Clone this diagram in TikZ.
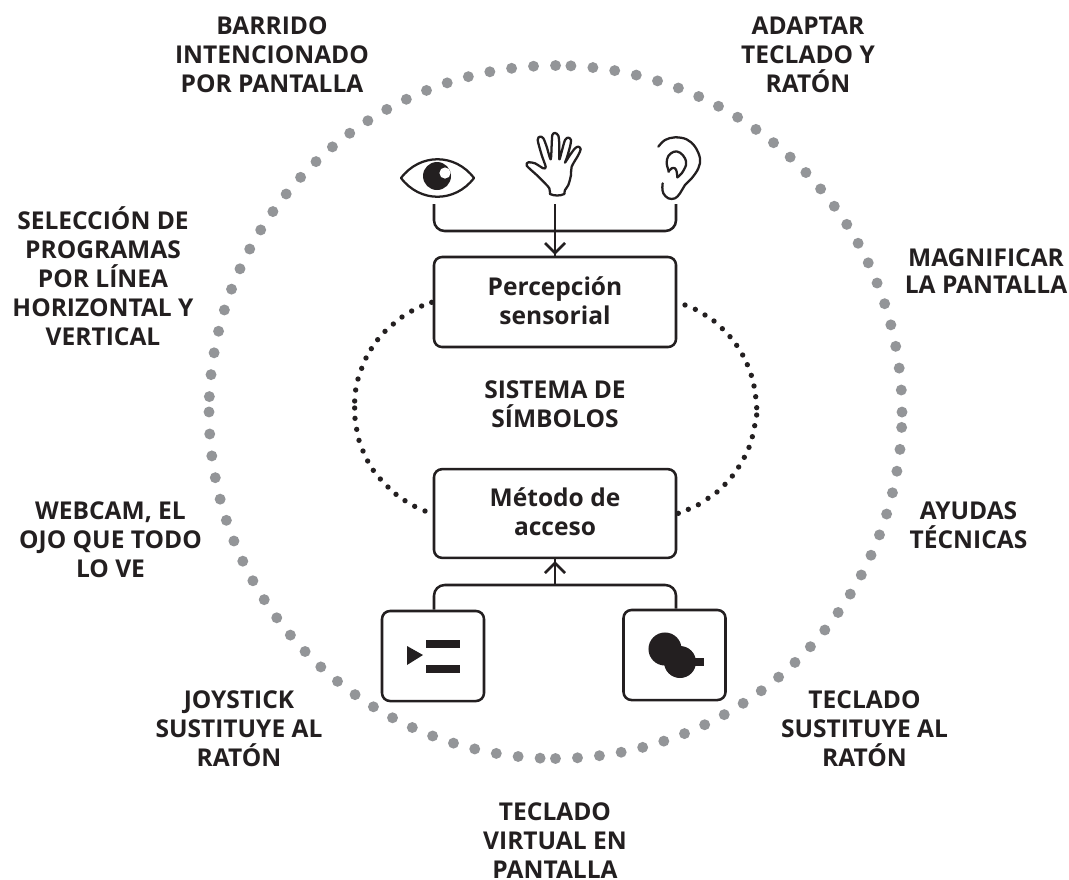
\documentclass[tikz,border=0pt]{standalone}
\usepackage{fontspec}
\setmainfont{Open Sans}[BoldFont={Open Sans Bold}]
\definecolor{ink}{HTML}{231F20}
\definecolor{dotgray}{HTML}{939598}
\tikzset{
  x=0.75pt,y=-0.75pt,
  lbl/.style={font=\fontsize{18.4}{21.8}\selectfont\bfseries,text=ink,align=center,inner sep=0pt},
  bx/.style={draw=ink,line width=1.9pt,rounded corners=6pt,fill=white,inner sep=0pt},
  conn/.style={draw=ink,line width=1.9pt,rounded corners=8pt},
  arr/.style={draw=ink,line width=1.9pt},
  icon/.style={draw=ink,line width=1.7pt,line join=round,line cap=round},
  bigdot/.style={fill=dotgray,draw=none},
  smalldot/.style={fill=ink,draw=none}
}
\begin{document}
\begin{tikzpicture}
\useasboundingbox (0,0) rectangle (1069,879);
\fill[white] (0,0) rectangle (1069,879);
% big dotted circle: four quadrant arcs
\foreach \q in {0,90,180,270}
  \foreach \k in {0,...,24}
    \fill[bigdot] ({555.5+346.5*sin(\q+2.55+\k*3.644)},{412-346.5*cos(\q+2.55+\k*3.644)}) circle[radius=4.1pt];
% boxes
\node[bx,minimum width=181.5pt,minimum height=67.5pt] (per) at (555,302) {};
\node[bx,minimum width=181.5pt,minimum height=66.5pt] (met) at (555,513.5) {};
% inner dotted arcs
\begin{scope}[shift={(340,250)},x=0.25pt,y=-0.25pt]
\foreach \px/\py in {275/157,245/168,215/183,186/201,160/222,135/244,113/269,94/296,78/324,65/355,54/387,47/420,44/453,44/474,45/505,50/538,57/571,69/603,83/633,100/661,121/687,144/711,168/733,195/752,224/769,255/783,
 1035/165,1066/178,1095/195,1122/213,1147/236,1170/260,1190/286,1208/315,1222/344,1234/376,1242/408,1247/440,1250/473,1250/495,1244/527,1237/560,1227/592,1213/622,1196/651,1177/678,1155/703,1131/726,1104/745,1075/764,1045/778,1015/790}
  \fill[smalldot] (\px,\py) circle[radius=2pt];
\end{scope}
\node[lbl] (pertxt) at (555,301) {Percepción\\sensorial};
\node[lbl] (mettxt) at (555,512) {Método de\\acceso};
\node[lbl] (sis) at (555,404) {SISTEMA DE\\SÍMBOLOS};
\node[bx,minimum width=76.5pt,minimum height=67.5pt] (joy) at (433,656) {};
\node[bx,minimum width=76.5pt,minimum height=67.5pt] (key) at (674.5,655) {};
% connectors
\coordinate (eyeb) at (434,204);
\coordinate (handb) at (555,204);
\coordinate (earb) at (676,204);
\coordinate (topj) at (555,231);
\coordinate (botj) at (555,585);
\draw[conn] (eyeb) |- (topj) -| (earb);
\draw[arr] (handb) -- (per.north);
\draw[arr,line join=miter] (545,243) -- (555,253) -- (565,243);
\draw[conn] (joy.north -| eyeb) |- (botj) -| (key.north -| earb);
\draw[arr] (botj) -- (met.south);
\draw[arr,line join=miter] (545,573) -- (555,563) -- (565,573);
% joystick icon
\fill[ink] (407,646) -- (423,655) -- (407,665) -- cycle;
\fill[ink] (426,640) rectangle (460,648);
\fill[ink] (426,665) rectangle (460,673);
% key icon
\fill[ink] (665,649) circle[radius=12.4pt];
\fill[ink] (680,662) circle[radius=12pt];
\fill[ink] (690,658) rectangle (704,666);
% eye
\draw[icon] (401,178) .. controls (420,153) and (455,153) .. (474,178) .. controls (455,203) and (420,203) .. cycle;
\fill[ink] (437,176) circle[radius=10.5pt];
\fill[white] (445,173) circle[radius=4.2pt];
% hand
\begin{scope}[shift={(515,125)},x=0.25pt,y=-0.25pt]
\draw[icon] plot[smooth,tension=0.5] coordinates {(105,207) (103,190) (90,175) (65,150) (35,122) (40,112) (60,115) (85,130) (92,125) (80,90) (68,45) (75,35) (85,40) (95,65) (107,103) (110,60) (112,30) (120,24) (130,32) (133,60) (133,103) (140,80) (150,45) (160,38) (168,45) (165,65) (155,100) (150,113) (165,90) (180,70) (190,65) (197,72) (190,90) (170,125) (168,150) (160,180) (150,195) (148,207)};
\draw[icon] (105,207) .. controls (118,213) and (135,213) .. (148,207);
\end{scope}
% ear
\begin{scope}[shift={(650,130)},x=0.25pt,y=-0.25pt]
\draw[icon] plot[smooth,tension=0.6] coordinates {(25,50) (45,30) (75,22) (110,28) (135,50) (150,85) (145,115) (125,145) (105,165) (90,190) (75,205) (55,205) (40,190) (37,172) (38,160)};
\draw[icon] plot[smooth,tension=0.6] coordinates {(57,125) (50,100) (55,78) (72,65) (90,68) (105,85) (108,105) (95,130) (82,142)};
\draw[icon] plot[smooth,tension=0.6] coordinates {(55,125) (65,115) (75,115) (80,125) (82,142)};
\end{scope}
% outer labels
\node[lbl] (a) at (272,55) {BARRIDO\\INTENCIONADO\\POR PANTALLA};
\node[lbl] (b) at (808,55) {ADAPTAR\\TECLADO Y\\RATÓN};
\node[lbl] (c) at (103,276) {SELECCIÓN DE\\PROGRAMAS\\POR LÍNEA\\HORIZONTAL Y\\VERTICAL};
\node[lbl] (d) at (986,271) {MAGNIFICAR\\[-1.5pt]LA PANTALLA};
\node[lbl] (e) at (110.5,540) {WEBCAM, EL\\OJO QUE TODO\\LO VE};
\node[lbl] (f) at (968.5,525) {AYUDAS\\TÉCNICAS};
\node[lbl] (g) at (239,729) {JOYSTICK\\SUSTITUYE AL\\RATÓN};
\node[lbl] (h) at (864.5,729) {TECLADO\\SUSTITUYE AL\\RATÓN};
\node[lbl] (i) at (555,841) {TECLADO\\VIRTUAL EN\\PANTALLA};
\end{tikzpicture}
\end{document}
